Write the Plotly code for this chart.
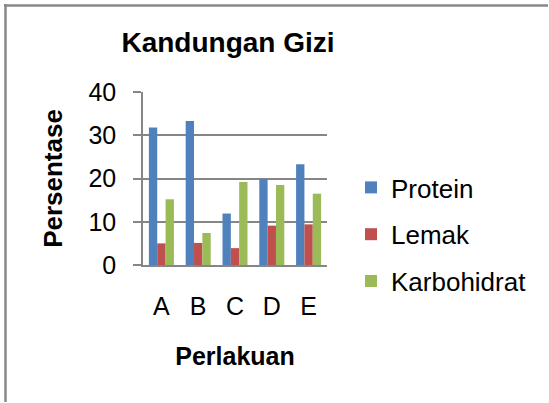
import plotly.graph_objects as go

categories = ["A", "B", "C", "D", "E"]
protein = [31.8, 33.3, 11.9, 19.9, 23.3]
lemak = [5.0, 5.1, 3.9, 9.1, 9.4]
karbohidrat = [15.2, 7.4, 19.2, 18.5, 16.5]
series_names = ["Protein", "Lemak", "Karbohidrat"]
colors = ["#4F81BD", "#C0504D", "#9BBB59"]

W, H = 549, 403
L, R, T, B = 143, 327, 92, 265  # plot area in pixels

fig = go.Figure()
for name, vals, col in zip(series_names, [protein, lemak, karbohidrat], colors):
    fig.add_trace(go.Bar(x=categories, y=vals, name=name, marker_color=col,
                         marker_line_width=0, legendgroup=name))

font = "Liberation Sans, Arial, sans-serif"
pw, ph = R - L, B - T

def px_x(p):
    return (p - L) / pw

def px_y(p):
    return (B - p) / ph

border = dict(color="#888888", width=2.5)

fig.update_layout(
    width=W, height=H,
    margin=dict(l=L, r=W - R, t=T, b=H - B, pad=0),
    paper_bgcolor="white", plot_bgcolor="white",
    barmode="group", bargap=0.32, bargroupgap=0,
    font=dict(family=font, color="black", size=25),
    title=dict(text="<b>Kandungan Gizi</b>", x=228 / W, xanchor="center",
               y=1 - 42 / H, yanchor="middle", font=dict(size=28)),
    showlegend=True,
    legend=dict(x=px_x(351), xanchor="left", y=px_y(164), yanchor="top",
                font=dict(size=26), tracegroupgap=10, bgcolor="rgba(0,0,0,0)"),
    xaxis=dict(showline=True, linecolor="#868686", linewidth=1.5, showgrid=False,
               ticks="outside", ticklen=0, ticklabelstandoff=18,
               tickfont=dict(size=25),
               title=dict(text="<b>Perlakuan</b>", font=dict(size=25), standoff=29)),
    yaxis=dict(range=[0, 40], dtick=10, showline=True, linecolor="#868686", linewidth=1.5,
               showgrid=True, gridcolor="#868686", gridwidth=1.5,
               ticks="outside", ticklen=8, tickcolor="#868686", tickwidth=1.5,
               ticklabelstandoff=12, tickfont=dict(size=25), zeroline=False,
               title=dict(text="<b>Persentase</b>", font=dict(size=26), standoff=18)),
    shapes=[
        dict(type="line", xref="paper", yref="paper", x0=px_x(4), x1=px_x(W - 1),
             y0=px_y(5.5), y1=px_y(5.5), line=border, layer="above"),
        dict(type="line", xref="paper", yref="paper", x0=px_x(5.5), x1=px_x(5.5),
             y0=px_y(4), y1=px_y(H - 1), line=border, layer="above"),
    ],
)

fig.write_html("out.html", config={"displayModeBar": False},
               post_script="document.body.style.margin='0';document.body.style.overflow='hidden';")
